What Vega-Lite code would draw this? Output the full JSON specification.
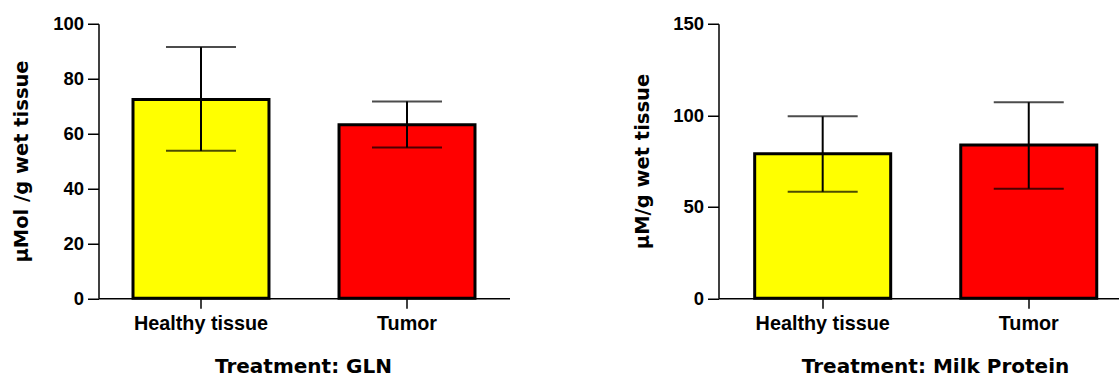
{
  "$schema": "https://vega.github.io/schema/vega-lite/v6.json",
  "background": "white",
  "padding": {"left": 11.5, "top": 14.75, "right": 0, "bottom": 0},
  "autosize": {"type": "pad"},
  "bounds": "flush",
  "spacing": 209,
  "config": {
    "view": {"stroke": null},
    "axis": {
      "grid": false,
      "domainColor": "black",
      "domainWidth": 1.5,
      "tickColor": "black",
      "tickWidth": 1.5,
      "labelFont": "Liberation Sans",
      "labelFontWeight": "bold",
      "labelColor": "black",
      "titleFont": "DejaVu Sans",
      "titleFontWeight": "bold",
      "titleColor": "black"
    }
  },
  "datasets": {
    "gln": [
      {"group": "Healthy tissue", "mean": 72.4, "low": 53.7, "high": 91.5},
      {"group": "Tumor", "mean": 63.2, "low": 54.9, "high": 71.7}
    ],
    "milk": [
      {"group": "Healthy tissue", "mean": 78.9, "low": 58.2, "high": 99.4},
      {"group": "Tumor", "mean": 83.8, "low": 59.9, "high": 107.1}
    ]
  },
  "hconcat": [
    {
      "width": 411,
      "height": 274.5,
      "data": {"name": "gln"},
      "encoding": {
        "x": {
          "field": "group",
          "type": "nominal",
          "sort": null,
          "scale": {"paddingInner": 0.34, "paddingOuter": 0.1675, "align": 0.5, "round": false},
          "axis": {
            "title": "Treatment: GLN",
            "titleFontSize": 20,
            "titleX": 204.5,
            "titlePadding": 18,
            "minExtent": 40,
            "maxExtent": 40,
            "labelAngle": 0,
            "labelFontSize": 19.8,
            "tickSize": 10,
            "labelPadding": 5
          }
        }
      },
      "layer": [
        {
          "mark": {"type": "bar", "stroke": "black", "strokeWidth": 3},
          "encoding": {
            "y": {
              "field": "mean",
              "type": "quantitative",
              "title": "µMol /g wet tissue",
              "scale": {"domain": [0, 100], "nice": false},
              "axis": {
                "values": [0, 20, 40, 60, 80, 100],
                "tickSize": 11,
                "labelPadding": 4,
                "labelFontSize": 18.5,
                "titleFontSize": 19.5,
                "minExtent": 50,
                "maxExtent": 50,
                "titlePadding": 17
              }
            },
            "color": {
              "field": "group",
              "type": "nominal",
              "scale": {"domain": ["Healthy tissue", "Tumor"], "range": ["#ffff00", "#ff0000"]},
              "legend": null
            }
          }
        },
        {
          "mark": {"type": "errorbar", "color": "black", "thickness": 2, "ticks": {"size": 70, "thickness": 2}},
          "encoding": {
            "y": {"field": "low", "type": "quantitative", "title": "µMol /g wet tissue"},
            "y2": {"field": "high"}
          }
        }
      ]
    },
    {
      "width": 401,
      "height": 274.5,
      "data": {"name": "milk"},
      "encoding": {
        "x": {
          "field": "group",
          "type": "nominal",
          "sort": null,
          "scale": {"paddingInner": 0.34, "paddingOuter": 0.143, "align": 0.614, "round": false},
          "axis": {
            "title": "Treatment: Milk Protein",
            "titleFontSize": 20,
            "titleX": 216.5,
            "titlePadding": 18,
            "minExtent": 40,
            "maxExtent": 40,
            "labelAngle": 0,
            "labelFontSize": 19.8,
            "tickSize": 10,
            "labelPadding": 5
          }
        }
      },
      "layer": [
        {
          "mark": {"type": "bar", "stroke": "black", "strokeWidth": 3},
          "encoding": {
            "y": {
              "field": "mean",
              "type": "quantitative",
              "title": "µM/g wet tissue",
              "scale": {"domain": [0, 150], "nice": false},
              "axis": {
                "values": [0, 50, 100, 150],
                "tickSize": 11,
                "labelPadding": 4,
                "labelFontSize": 18.5,
                "titleFontSize": 19.5,
                "minExtent": 50,
                "maxExtent": 50,
                "titlePadding": 16
              }
            },
            "color": {
              "field": "group",
              "type": "nominal",
              "scale": {"domain": ["Healthy tissue", "Tumor"], "range": ["#ffff00", "#ff0000"]},
              "legend": null
            }
          }
        },
        {
          "mark": {"type": "errorbar", "color": "black", "thickness": 2, "ticks": {"size": 70, "thickness": 2}},
          "encoding": {
            "y": {"field": "low", "type": "quantitative", "title": "µM/g wet tissue"},
            "y2": {"field": "high"}
          }
        }
      ]
    }
  ]
}
